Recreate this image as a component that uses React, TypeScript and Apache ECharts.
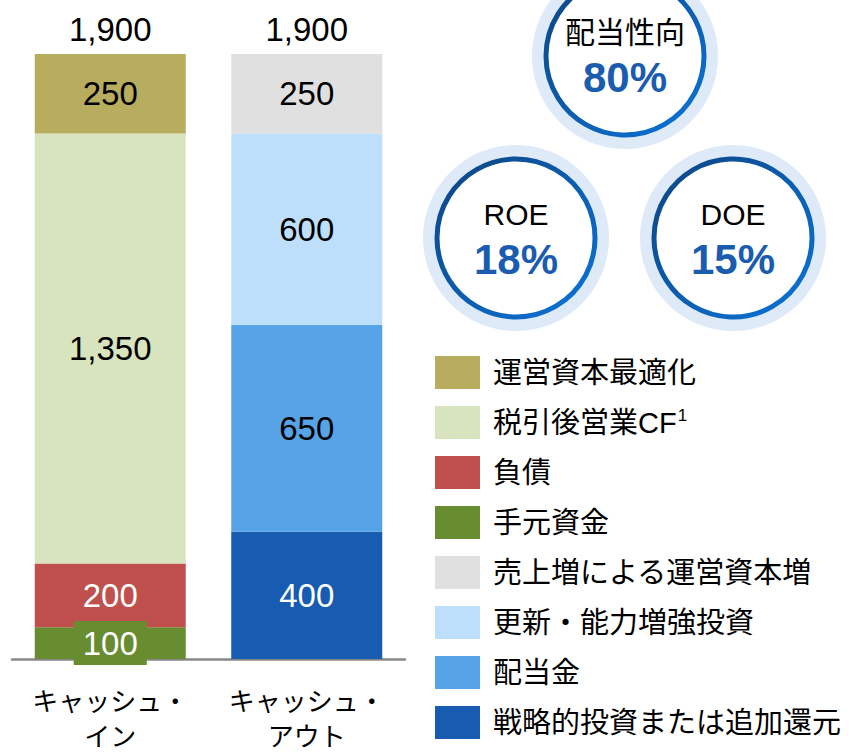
import React, { useEffect, useRef } from "react";
import * as echarts from "echarts";

const categories = ["キャッシュ・\nイン", "キャッシュ・\nアウト"];
const totals = [1900, 1900];

// Cash-in (left bar), bottom to top
const cashOnHand = [100, null];
const debt = [200, null];
const afterTaxOpCF = [1350, null];
const workingCapitalOpt = [250, null];

// Cash-out (right bar), bottom to top
const strategicInvest = [null, 400];
const dividends = [null, 650];
const renewalInvest = [null, 600];
const workingCapitalIncrease = [null, 250];

const legendOrder = [
  "運営資本最適化",
  "税引後営業CF",
  "負債",
  "手元資金",
  "売上増による運営資本増",
  "更新・能力増強投資",
  "配当金",
  "戦略的投資または追加還元",
];

const kpis = [
  { name: "配当性向", value: "80%" },
  { name: "ROE", value: "18%" },
  { name: "DOE", value: "15%" },
];

const FONT = "'Liberation Sans', Arial, 'Noto Sans CJK JP', sans-serif";

export default function App() {
  const ref = useRef<HTMLDivElement>(null);

  useEffect(() => {
    if (!ref.current) return;
    const chart = echarts.init(ref.current, undefined, { renderer: "svg" });

    const mk = (name: string, data: (number | null)[], color: string, labelColor: string, extraLabel: any = {}) => ({
      name,
      type: "bar",
      stack: "total",
      barWidth: 151,
      data,
      itemStyle: { color },
      label: {
        show: true,
        position: "inside",
        color: labelColor,
        fontSize: 33,
        fontFamily: FONT,
        formatter: (p: any) => (p.value == null ? "" : echarts.format.addCommas(p.value)),
        ...extraLabel,
      },
      emphasis: { disabled: true },
    });

    const ringStroke = new echarts.graphic.LinearGradient(0, 0, 1, 1, [
      { offset: 0, color: "#0E4583" },
      { offset: 1, color: "#0A74D9" },
    ]);

    const circlePos = [
      { cx: 625, cy: 56 },
      { cx: 516, cy: 238 },
      { cx: 733, cy: 238 },
    ];

    const circleGraphics: any[] = [];
    kpis.forEach((k, i) => {
      const { cx, cy } = circlePos[i];
      circleGraphics.push(
        { type: "circle", shape: { cx, cy, r: 93 }, style: { fill: "#DEEAF8" }, z: 1 },
        {
          type: "circle",
          shape: { cx, cy, r: 79 },
          style: { fill: "#ffffff", stroke: ringStroke, lineWidth: 5 },
          z: 2,
        },
        {
          type: "text",
          x: cx,
          y: cy - 24,
          z: 3,
          style: {
            text: k.name,
            fill: "#000000",
            font: `30px ${FONT}`,
            textAlign: "center",
            textVerticalAlign: "middle",
          },
        },
        {
          type: "text",
          x: cx,
          y: cy + 21,
          z: 3,
          style: {
            text: k.value,
            fill: "#1A5CB0",
            font: `bold 42px ${FONT}`,
            textAlign: "center",
            textVerticalAlign: "middle",
          },
        }
      );
    });

    chart.setOption({
      animation: false,
      grid: { left: 12, right: 444, top: 54, bottom: 96, containLabel: false },
      xAxis: {
        type: "category",
        data: categories,
        axisLine: { show: true, lineStyle: { color: "#888888", width: 2.5 } },
        axisTick: { show: false },
        axisLabel: {
          color: "#000000",
          fontSize: 26,
          lineHeight: 35,
          margin: 25,
          fontFamily: FONT,
          interval: 0,
        },
        z: 1,
      },
      yAxis: {
        type: "value",
        min: 0,
        max: 1900,
        show: false,
        splitLine: { show: false },
      },
      legend: {
        data: legendOrder,
        orient: "vertical",
        left: 435,
        top: 356,
        padding: 0,
        itemWidth: 45,
        itemHeight: 33,
        itemGap: 17,
        icon: "rect",
        selectedMode: false,
        formatter: (name: string) =>
          name === "税引後営業CF" ? `{t|${name}}{s|1}` : `{t|${name}}`,
        textStyle: {
          padding: [0, 0, 0, 8],
          rich: {
            t: { fontSize: 29, color: "#000000", fontFamily: FONT },
            s: { fontSize: 17, color: "#000000", fontFamily: FONT, verticalAlign: "top", padding: [0, 0, 14, 1] },
          },
        },
      },
      series: [
        mk("手元資金", cashOnHand, "#688D30", "#ffffff", {
          backgroundColor: "#688D30",
          padding: [6, 9, 5, 9],
        }),
        mk("負債", debt, "#C0504D", "#ffffff"),
        mk("税引後営業CF", afterTaxOpCF, "#D8E4BD", "#000000"),
        mk("運営資本最適化", workingCapitalOpt, "#B8AC5F", "#000000"),
        mk("戦略的投資または追加還元", strategicInvest, "#175CB0", "#ffffff"),
        mk("配当金", dividends, "#56A3E8", "#000000"),
        mk("更新・能力増強投資", renewalInvest, "#BDDFFB", "#000000"),
        mk("売上増による運営資本増", workingCapitalIncrease, "#E0E0E0", "#000000"),
        {
          name: "total",
          type: "scatter",
          data: totals,
          symbolSize: 0,
          silent: true,
          itemStyle: { opacity: 1, color: "rgba(0,0,0,0)" },
          label: {
            show: true,
            position: "top",
            distance: 8,
            color: "#000000",
            opacity: 1,
            fontSize: 33,
            fontFamily: FONT,
            formatter: (p: any) => echarts.format.addCommas(p.value),
          },
        },
      ],
      graphic: circleGraphics,
    });

    return () => chart.dispose();
  }, []);

  return (
    <div
      ref={ref}
      style={{ position: "absolute", left: 0, top: 0, width: 849, height: 755 }}
    />
  );
}
